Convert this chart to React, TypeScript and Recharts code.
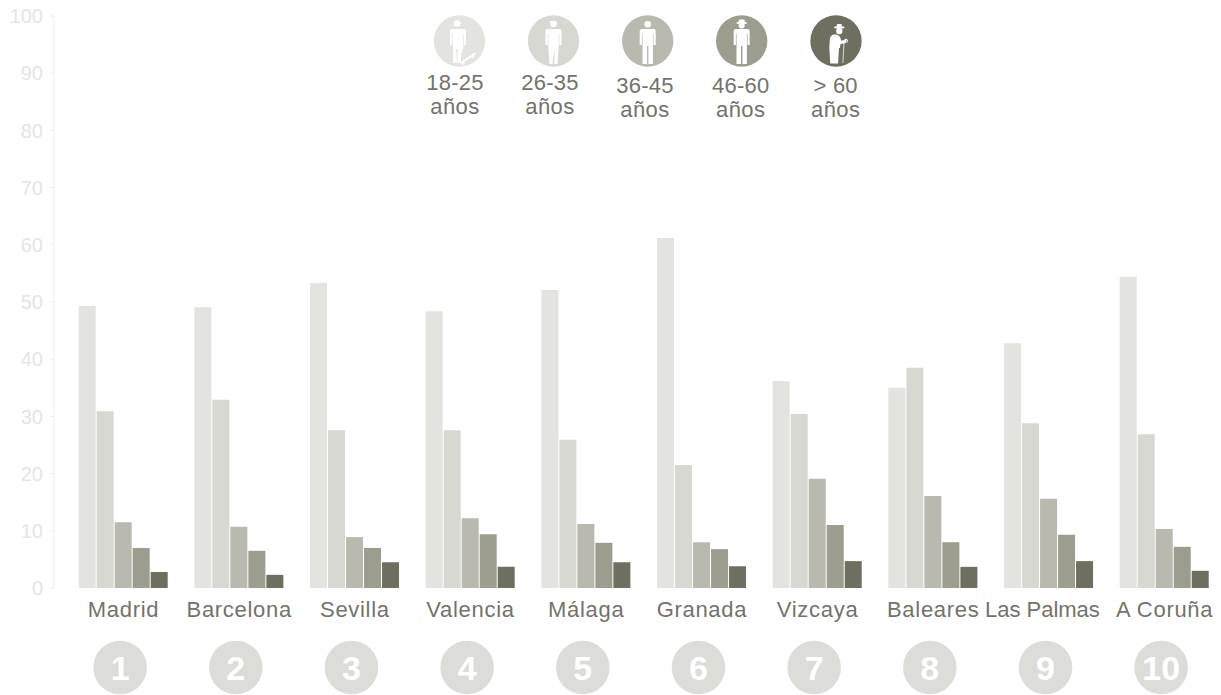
import React from 'react'
import { Bar, BarChart, XAxis, YAxis } from 'recharts'

const FONT = '"Liberation Sans", Arial, sans-serif'
const TEXT_COLOR = '#73736a'

const cities = ['Madrid', 'Barcelona', 'Sevilla', 'Valencia', 'Málaga', 'Granada', 'Vizcaya', 'Baleares', 'Las Palmas', 'A Coruña']
const ranks = ['1', '2', '3', '4', '5', '6', '7', '8', '9', '10']
const yTicks = [0, 10, 20, 30, 40, 50, 60, 70, 80, 90, 100]

const age18to25 = [49.3, 49.1, 53.3, 48.4, 52.1, 61.2, 36.2, 35.0, 42.8, 54.4]
const age26to35 = [30.9, 32.9, 27.6, 27.6, 25.9, 21.5, 30.4, 38.5, 28.8, 26.9]
const age36to45 = [11.5, 10.7, 8.9, 12.2, 11.2, 8.0, 19.1, 16.1, 15.6, 10.3]
const age46to60 = [7.0, 6.5, 7.0, 9.4, 7.9, 6.8, 11.0, 8.0, 9.3, 7.2]
const ageOver60 = [2.8, 2.3, 4.5, 3.7, 4.5, 3.8, 4.7, 3.7, 4.7, 3.0]

const data = cities.map((city, i) => ({
  city,
  rank: ranks[i],
  a: age18to25[i],
  b: age26to35[i],
  c: age36to45[i],
  d: age46to60[i],
  e: ageOver60[i],
}))

const colors = ['#e3e4df', '#d8d8d3', '#b9b9af', '#9d9d8f', '#6f6f61']

const CityTick = ({ x, y, payload }: any) => {
  const isLasPalmas = payload.value === 'Las Palmas'
  return (
    <text
      x={isLasPalmas ? x - 6.5 : x}
      y={y + 21}
      textAnchor="middle"
      fontFamily={FONT}
      fontSize={22}
      letterSpacing={isLasPalmas ? 0 : 0.7}
      fill={TEXT_COLOR}
    >
      {payload.value}
    </text>
  )
}

const RankTick = ({ x, y, payload }: any) => (
  <g>
    <circle cx={x - 3.4} cy={y + 31.5} r={26.8} fill="#dcdcd8" />
    <text
      x={x - 3.4}
      y={y + 43.5}
      textAnchor="middle"
      fontFamily={FONT}
      fontSize={34}
      fontWeight="bold"
      fill="#fff"
    >
      {payload.value}
    </text>
  </g>
)

const standing = 'M-6,-12 H6 Q8,-12 8,-10 V4 H5.8 V-7 H5.2 V23 H0.7 V5 H-0.7 V23 H-5.2 V-7 H-5.8 V4 H-8 V-10 Q-8,-12 -6,-12 Z'

const Skater = () => (
  <g fill="#fff">
    <g transform="translate(-1.5,0)">
      <circle cx={-1} cy={-17.5} r={3.2} />
      <path d="M-4,-20 L2,-19.5 L4,-17 L-1,-18 Z" />
      <path d="M-6,-12 H6 Q8,-12 8,-10 V4 H5.8 V-7 H5.2 V6 L3,14 L3,22 H-0.5 L-0.5,8 L-2,8 L-1,22 H-5 V-7 H-5.8 V4 H-8 V-10 Q-8,-12 -6,-12 Z" />
    </g>
    <path d="M0.5,21.5 L15.5,11.5 L16.5,13 L2,23 Z" />
    <circle cx={4} cy={22.5} r={1.2} />
    <circle cx={13} cy={16} r={1.2} />
  </g>
)

const Casual = () => (
  <g fill="#fff">
    <circle cx={0} cy={-17} r={3.2} />
    <path d="M-4.5,-20 L2,-20 L4,-17.5 L-2,-18 Z" />
    <path d="M-6,-12 H6 Q8,-12 8,-10 V4 H5.8 V-7 H5.2 V6 L4,23 H0.8 L1,8 L-1,23 H-4 L-5.2,6 V-7 H-5.8 V4 H-8 V-10 Q-8,-12 -6,-12 Z" />
  </g>
)

const Plain = () => (
  <g fill="#fff">
    <circle cx={0} cy={-16.7} r={3.3} />
    <path d={standing} />
  </g>
)

const WithHat = () => (
  <g fill="#fff">
    <circle cx={0} cy={-15.5} r={3} />
    <rect x={-3} y={-21.5} width={6} height={5} rx={1} />
    <ellipse cx={0} cy={-18} rx={5.4} ry={1.2} />
    <path d={standing} />
  </g>
)

const Elder = () => (
  <g fill="#fff">
    <circle cx={3.3} cy={-10} r={3.2} />
    <rect x={0.8} y={-17} width={5} height={4.5} rx={1} />
    <ellipse cx={3.3} cy={-13.6} rx={5.3} ry={1.1} />
    <path d="M-2,-6.5 Q3,-7 4.5,-3 L5,-0.5 L10,-1 L10.5,1.8 L4.5,3 L3.8,7 H-6.7 L-6.2,-2 Q-5.5,-6 -2,-6.5 Z" />
    <path d="M-6.7,7 H0 V22.5 H-5.8 Z" />
    <path d="M0,7 H3 L2,22.5 H0 Z" />
    <path d="M8,0 Q8.5,-2.8 11,-2 Q12.6,-1 11.5,1.5 L10.6,1 Q11.2,-0.8 10.2,-1 Q9.3,-1 9.2,0.5 Z" />
    <path d="M7.4,1 L8.6,1 L7.4,22 H6.4 Z" opacity={0.7} />
  </g>
)

const ageGroups = [
  { top: '18-25', cx: 459.5, tx: 455, base: 90, icon: <Skater /> },
  { top: '26-35', cx: 553.5, tx: 550, base: 90, icon: <Casual /> },
  { top: '36-45', cx: 647.7, tx: 645, base: 92.5, icon: <Plain /> },
  { top: '46-60', cx: 741.7, tx: 740.7, base: 92.5, icon: <WithHat /> },
  { top: '> 60', cx: 836, tx: 835.7, base: 92.5, icon: <Elder /> },
]

const AgeLegend = () => (
  <svg width={1221} height={140} style={{ position: 'absolute', left: 0, top: 0 }}>
    {ageGroups.map((g, i) => (
      <g key={g.top}>
        <circle cx={g.cx} cy={41} r={25.7} fill={colors[i]} />
        <g transform={`translate(${g.cx},41)`}>{g.icon}</g>
        <text x={g.tx} y={g.base} textAnchor="middle" fontFamily={FONT} fontSize={22} letterSpacing={0.2} fill={TEXT_COLOR}>
          {g.top}
        </text>
        <text x={g.tx} y={g.base + 24} textAnchor="middle" fontFamily={FONT} fontSize={22} letterSpacing={0.4} fill={TEXT_COLOR}>
          años
        </text>
      </g>
    ))}
  </svg>
)

export default function App() {
  return (
    <div style={{ position: 'absolute', left: 0, top: 0, width: 1221, height: 695, overflow: 'hidden', background: '#fff' }}>
      <BarChart
        width={1223}
        height={695}
        data={data}
        margin={{ top: 16, right: 0, bottom: 0, left: 0 }}
        barSize={17}
        barGap={1}
      >
        <YAxis
          type="number"
          domain={[0, 100]}
          ticks={yTicks}
          width={54}
          interval={0}
          tickSize={4}
          tickMargin={7}
          axisLine={{ stroke: '#edede9' }}
          tickLine={{ stroke: '#edede9' }}
          tick={{ fontFamily: FONT, fontSize: 20, fill: '#e5e5e2' }}
        />
        <XAxis
          dataKey="city"
          height={40}
          interval={0}
          axisLine={false}
          tickLine={false}
          padding={{ left: 11.7, right: 0.6 }}
          tick={<CityTick />}
        />
        <XAxis
          xAxisId="rank"
          dataKey="rank"
          height={67}
          interval={0}
          axisLine={false}
          tickLine={false}
          padding={{ left: 11.7, right: 0.6 }}
          tick={<RankTick />}
        />
        <Bar dataKey="a" fill={colors[0]} isAnimationActive={false} />
        <Bar dataKey="b" fill={colors[1]} isAnimationActive={false} />
        <Bar dataKey="c" fill={colors[2]} isAnimationActive={false} />
        <Bar dataKey="d" fill={colors[3]} isAnimationActive={false} />
        <Bar dataKey="e" fill={colors[4]} isAnimationActive={false} />
      </BarChart>
      <AgeLegend />
    </div>
  )
}
